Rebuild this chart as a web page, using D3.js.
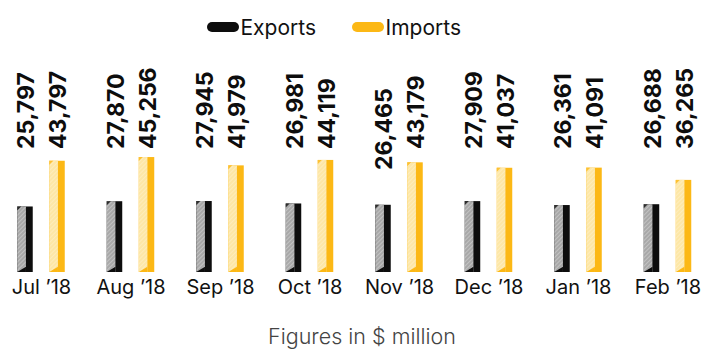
<!DOCTYPE html>
<html>
<head>
<meta charset="utf-8">
<script src="https://cdn.jsdelivr.net/npm/d3@7"></script>
<style>
  html, body { margin: 0; padding: 0; background: #fff; }
  svg { display: block; }
</style>
</head>
<body>
<div id="chart"></div>
<script>
// Monthly trade figures, $ million
const months = ["Jul \u201918", "Aug \u201918", "Sep \u201918", "Oct \u201918", "Nov \u201918", "Dec \u201918", "Jan \u201918", "Feb \u201918"];
const seriesNames = ["Exports", "Imports"];
const exportsValues = [25797, 27870, 27945, 26981, 26465, 27909, 26361, 26688];
const importsValues = [43797, 45256, 41979, 44119, 43179, 41037, 41091, 36265];
const footnote = "Figures in $ million";

const W = 703, H = 351;
const baseline = 272;
const labelFoot = 149;          // where the rotated value labels start
const lowered = { month: "Nov \u201918", series: "Exports", dy: 21 };

const colors = {
  Exports: { solid: "#0d0d0d", light: "#a8a8a8", hatch: "#ffffff" },
  Imports: { solid: "#fcb815", light: "#fde7a6", hatch: "#fffaf0" }
};

const rows = months.map((m, i) => ({ month: m, Exports: exportsValues[i], Imports: importsValues[i] }));

const svg = d3.select("#chart").append("svg")
  .attr("width", W).attr("height", H)
  .attr("font-family", "Inter, 'Noto Sans', sans-serif");

// hatch patterns for the lit left face of each bar
const defs = svg.append("defs");
seriesNames.forEach(s => {
  const p = defs.append("pattern")
    .attr("id", "hatch-" + s)
    .attr("patternUnits", "userSpaceOnUse")
    .attr("width", 3).attr("height", 3)
    .attr("patternTransform", "rotate(45)");
  p.append("rect").attr("width", 3).attr("height", 3).attr("fill", colors[s].light);
  p.append("line").attr("x1", 0).attr("y1", 0).attr("x2", 0).attr("y2", 3)
    .attr("stroke", colors[s].hatch).attr("stroke-width", 1).attr("opacity", 0.6);
});

const x0 = d3.scalePoint().domain(months).range([41, 667.5]);
const x1 = d3.scaleBand().domain(seriesNames).range([-23.75, 23.75]).paddingInner(0.516).paddingOuter(0);
const y = d3.scaleLinear().domain([0, 50000]).range([baseline, baseline - 127]);

// legend
const legend = svg.append("g");
const legendItems = [
  { name: "Exports", x: 207 },
  { name: "Imports", x: 352 }
];
legendItems.forEach(it => {
  legend.append("rect")
    .attr("x", it.x).attr("y", 22).attr("width", 32).attr("height", 10)
    .attr("rx", 5).attr("ry", 5)
    .attr("fill", colors[it.name].solid);
  legend.append("text")
    .attr("x", it.x + 33.5).attr("y", 34.5)
    .attr("font-size", 21).attr("fill", "#111")
    .text(it.name);
});

// bars
const groups = svg.append("g").selectAll("g")
  .data(rows).join("g")
  .attr("transform", d => `translate(${x0(d.month)},0)`);

const bars = groups.selectAll("g.bar")
  .data(d => seriesNames.map(s => ({ month: d.month, series: s, value: d[s] })))
  .join("g").attr("class", "bar");

const bw = x1.bandwidth();
bars.append("rect")
  .attr("x", d => x1(d.series)).attr("y", d => y(d.value))
  .attr("width", bw).attr("height", d => y(0) - y(d.value))
  .attr("fill", d => colors[d.series].solid);

bars.append("rect")
  .attr("x", d => x1(d.series)).attr("y", d => y(d.value))
  .attr("width", bw * 0.56).attr("height", d => y(0) - y(d.value))
  .attr("fill", d => `url(#hatch-${d.series})`);

// bevel shading at the foot and head of the lit face
bars.append("path")
  .attr("d", d => {
    const l = x1(d.series), b = y(0), f = bw * 0.56;
    return `M${l},${b} L${l + f},${b - f * 0.6} L${l + f},${b} Z`;
  })
  .attr("fill", d => colors[d.series].solid);
bars.append("path")
  .attr("d", d => {
    const l = x1(d.series), t = y(d.value);
    return `M${l},${t} L${l + 4},${t} L${l},${t + 4} Z`;
  })
  .attr("fill", d => colors[d.series].solid).attr("opacity", 0.8);

// value labels, rotated
bars.append("text")
  .attr("transform", d => {
    const cx = x1(d.series) + bw / 2 + 1;
    const shift = (d.month === lowered.month && d.series === lowered.series) ? lowered.dy : 0;
    return `translate(${cx},${labelFoot + shift}) rotate(-90)`;
  })
  .attr("dy", "0.36em")
  .attr("font-size", 23).attr("font-weight", 700).attr("fill", "#0d0d0d")
  .text(d => d3.format(",")(d.value));

// month axis
const axis = svg.append("g")
  .attr("transform", `translate(0,${baseline})`)
  .call(d3.axisBottom(x0).tickSize(0).tickPadding(8));
axis.select(".domain").remove();
axis.selectAll("text")
  .attr("font-family", "Inter, 'Noto Sans', sans-serif")
  .attr("font-size", 20).attr("fill", "#111");

// footnote
svg.append("text")
  .attr("x", 362).attr("y", 344)
  .attr("text-anchor", "middle")
  .attr("font-size", 21.5).attr("font-weight", 300).attr("fill", "#444")
  .text(footnote);
</script>
</body>
</html>
